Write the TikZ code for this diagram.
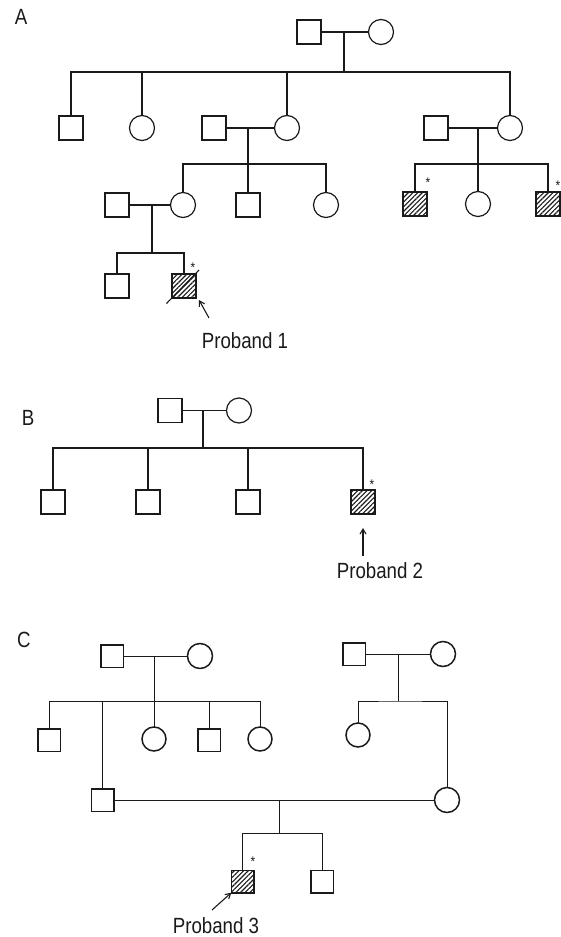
\documentclass[tikz,border=0pt]{standalone}
\usepackage{fontspec}
\setmainfont{Liberation Sans}[FakeStretch=0.85]
\usepackage{tikz}
\usetikzlibrary{arrows.meta,patterns.meta}
\definecolor{PedInk}{HTML}{1A1A1A}

\begin{document}
\begin{tikzpicture}[x=1pt,y=-1pt,
    every node/.style={inner sep=0pt,outer sep=0pt},
    male/.style={draw=PedInk,line width=1.2pt,rectangle,minimum size=24pt},
    female/.style={draw=PedInk,line width=1.2pt,circle,minimum size=25pt},
    hit/.style={pattern={Lines[angle=45,distance=3.3pt,line width=1.1pt]},pattern color=PedInk},
    tie/.style={draw=PedInk,line width=1.8pt},
    thintie/.style={draw=PedInk,line width=0.9pt},
    small/.style={minimum size=22.5pt,line width=1.5pt},
    tag/.style={font=\fontsize{22}{24}\selectfont,text=PedInk},
    astx/.style={font=\fontsize{14}{14}\selectfont,text=PedInk},
    pointer/.style={draw=PedInk,line width=1.1pt,-{Straight Barb[length=5pt,width=6pt]}}
  ]
  \useasboundingbox (0,0) rectangle (561,937);

  % A
  \node[tag] (la) at (21,17) {A};
  \node[male] (a1m) at (309,32) {};
  \node[female] (a1f) at (381,32) {};
  \node[male] (a2a) at (71,128) {};
  \node[female] (a2b) at (142,128) {};
  \node[male] (a2c) at (214,128) {};
  \node[female] (a2d) at (287,128) {};
  \node[male] (a2e) at (436,128) {};
  \node[female] (a2f) at (510,128) {};
  \node[male] (a3a) at (117,205) {};
  \node[female] (a3b) at (183,205) {};
  \node[male] (a3c) at (248,205) {};
  \node[female] (a3d) at (326,205) {};
  \node[male,hit] (a3e) at (415,204) {};
  \node[female] (a3f) at (478,204) {};
  \node[male,hit] (a3g) at (548,204) {};
  \node[male] (a4a) at (117,286) {};
  \node[male,hit] (a4b) at (184,286) {};
  \node[astx] (s3e) at (428,183) {*};
  \node[astx] (s3g) at (558,186) {*};
  \node[astx] (s4b) at (193,268) {*};
  \node[tag] (p1) at (245,341) {Proband 1};
  \coordinate (a1d) at (344,32);
  \coordinate (a2s) at (344,72);
  \coordinate (a2cd) at (248,128);
  \coordinate (a3s) at (248,164);
  \coordinate (a2ef) at (478,128);
  \coordinate (a3s2) at (478,164);
  \coordinate (a3ab) at (152,205);
  \coordinate (a4s) at (152,253);
  \coordinate (p1t) at (209,318);

  \draw[tie] (a1m) -- (a1f);
  \draw[tie] (a1d) -- (a2s);
  \draw[tie] (a2a.north) |- (a2s) -| (a2f.north);
  \draw[tie] (a2s) -| (a2b.north);
  \draw[tie] (a2s) -| (a2d.north);
  \draw[tie] (a2c) -- (a2d);
  \draw[tie] (a2cd) -- (a3s);
  \draw[tie] (a3b.north) |- (a3s) -| (a3d.north);
  \draw[tie] (a3s) -- (a3c.north);
  \draw[tie] (a2e) -- (a2f);
  \draw[tie] (a2ef) -- (a3s2);
  \draw[tie] (a3e.north) |- (a3s2) -| (a3g.north);
  \draw[tie] (a3s2) -- (a3f.north);
  \draw[tie] (a3a) -- (a3b);
  \draw[tie] (a3ab) -- (a4s);
  \draw[tie] (a4a.north) |- (a4s) -| (a4b.north);
  \draw[draw=PedInk,line width=1.1pt] ([shift={(-5.5,5.5)}]a4b.south west) -- ([shift={(3,-4)}]a4b.north east);
  \draw[pointer] (p1t) -- ([shift={(3,2)}]a4b.south east);

  % B
  \node[tag] (lb) at (28,418) {B};
  \node[male] (b1m) at (170,410.5) {};
  \node[female] (b1f) at (239,410.5) {};
  \node[male] (b2a) at (53,502) {};
  \node[male] (b2b) at (148,502) {};
  \node[male] (b2c) at (248,502) {};
  \node[male,hit] (b2d) at (363,502) {};
  \node[astx] (s2d) at (372,485) {*};
  \node[tag] (p2) at (380,571) {Proband 2};
  \coordinate (b1d) at (203,410.5);
  \coordinate (b2s) at (203,448);
  \coordinate (p2t) at (363,556);

  \draw[tie] (b1m) -- (b1f);
  \draw[tie] (b1d) -- (b2s);
  \draw[tie] (b2a.north) |- (b2s) -| (b2d.north);
  \draw[tie] (b2s) -| (b2b.north);
  \draw[tie] (b2s) -| (b2c.north);
  \draw[pointer] (p2t) -- ([shift={(0,14)}]b2d.south);

  % C
  \node[tag] (lc) at (24,640) {C};
  \node[male,small] (c1m) at (112,656) {};
  \node[female,small,minimum size=25pt] (c1f) at (200,656) {};
  \node[male,small] (c1m2) at (354,654) {};
  \node[female,small,minimum size=25pt] (c1f2) at (443,654) {};
  \node[male,small] (c2a) at (49,740) {};
  \node[female,small,minimum size=24pt] (c2b) at (154,739) {};
  \node[male,small] (c2c) at (209,740) {};
  \node[female,small,minimum size=24pt] (c2d) at (260,739) {};
  \node[female,small,minimum size=24pt] (c2e) at (358,735) {};
  \node[male,small] (c3a) at (102.5,800) {};
  \node[female,small,minimum size=25pt] (c3b) at (447,800) {};
  \node[male,small,hit] (c4a) at (242.5,881.5) {};
  \node[male,small] (c4b) at (322,881.5) {};
  \node[astx] (s4a) at (253,862) {*};
  \node[tag] (p3) at (216,926) {Proband 3};
  \coordinate (c1d) at (154,656);
  \coordinate (c2s) at (154,701);
  \coordinate (c1d2) at (398,654);
  \coordinate (c2s2) at (398,701);
  \coordinate (c3d) at (279,800);
  \coordinate (c4s) at (279,833);
  \coordinate (p3t) at (212,910);

  \draw[thintie] (c1m) -- (c1f);
  \draw[thintie] (c1d) -- (c2s);
  \draw[thintie] (c2a.north) |- (c2s) -| (c2d.north);
  \draw[thintie] (c2s) -- (c2b.north);
  \draw[thintie] (c2s) -| (c2c.north);
  \draw[thintie] (c2s) -| (c3a.north);
  \draw[thintie] (c1m2) -- (c1f2);
  \draw[thintie] (c1d2) -- (c2s2);
  \draw[thintie] (c2e.north) |- (c2s2) -| (c3b.north);
  \draw[thintie] (c3a) -- (c3b);
  \draw[thintie] (c3d) -- (c4s);
  \draw[thintie] (c4a.north) |- (c4s) -| (c4b.north);
  \draw[pointer] (p3t) -- (c4a.south west);
\end{tikzpicture}
\end{document}
